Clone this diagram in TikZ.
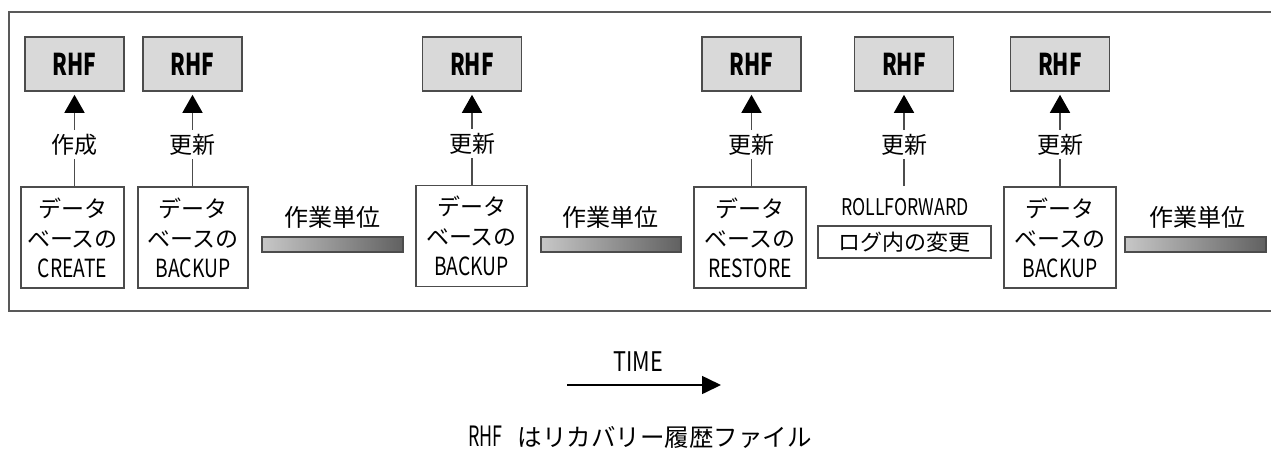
\documentclass[tikz,border=0pt]{standalone}
\usepackage{fontspec}
\setmainfont{Noto Sans CJK JP}
\usepackage{graphicx}
\usetikzlibrary{arrows.meta}
\newcommand{\nrw}[2][0.77]{\scalebox{#1}[1]{#2}}
\newcommand{\latline}[1]{\nrw{\fontsize{25}{30}\selectfont #1}}
\begin{document}
\begin{tikzpicture}[x=1pt,y=-1pt,
  rhfbox/.style={draw=black!70, line width=1.6pt, fill=black!15, minimum width=99pt, minimum height=54pt, inner sep=0pt, font=\fontsize{30}{30}\selectfont\bfseries},
  dbbox/.style={draw=black!70, line width=1.6pt, fill=white, minimum height=101pt, inner sep=0pt, align=center, font=\fontsize{23}{30}\selectfont},
  lbl/.style={fill=white, inner sep=4pt, font=\fontsize{23}{23}\selectfont},
  upd/.style={line width=1.6pt, draw=black!70, -{Triangle[width=20pt,length=18pt,black]}, shorten >=3pt},
  workbar/.style={draw=black!70, line width=1.4pt, left color=black!22, right color=black!62, minimum width=141pt, minimum height=15pt, inner sep=0pt},
  wu/.style={font=\fontsize{24}{24}\selectfont, inner sep=0pt},
]
\useasboundingbox (0,0) rectangle (1271,451);
% outer frame
\draw[black!65, line width=2pt] (1271,12) -- (9,12) -- (9,311) -- (1271,311);

% RHF boxes
\node[rhfbox] (r1) at (74.5,64) {\nrw[0.7]{RHF}};
\node[rhfbox] (r2) at (192.5,64) {\nrw[0.7]{RHF}};
\node[rhfbox] (r3) at (472,64) {\nrw[0.7]{RHF}};
\node[rhfbox] (r4) at (751.5,64) {\nrw[0.7]{RHF}};
\node[rhfbox] (r5) at (904,64) {\nrw[0.7]{RHF}};
\node[rhfbox] (r6) at (1060,64) {\nrw[0.7]{RHF}};

% database boxes
\node[dbbox, minimum width=103pt] (b1) at (72.5,237.5) {データ\\ベースの\\\latline{CREATE}};
\node[dbbox, minimum width=110pt] (b2) at (193,237.5) {データ\\ベースの\\\latline{BACKUP}};
\node[dbbox, minimum width=111pt] (b3) at (471.5,236) {データ\\ベースの\\\latline{BACKUP}};
\node[dbbox, minimum width=112pt] (b4) at (750,237.5) {データ\\ベースの\\\latline{RESTORE}};
\node[dbbox, minimum width=112pt] (b6) at (1060,237.5) {データ\\ベースの\\\latline{BACKUP}};

% rollforward
\node[inner sep=0pt, font=\fontsize{23}{23}\selectfont] (rf) at (905,207) {\nrw{ROLLFORWARD}};
\node[draw=black!70, line width=1.6pt, fill=white, minimum width=173pt, minimum height=32pt, inner sep=0pt, font=\fontsize{22}{22}\selectfont] (log) at (904.5,242) {ログ内の変更};
\coordinate (c5) at (904,186);

% connectors
\draw[upd] (b1.north -| r1.south) -- node[lbl, pos=0.44] (l1) {作成} (r1.south);
\draw[upd] (b2.north -| r2.south) -- node[lbl, pos=0.44] (l2) {更新} (r2.south);
\draw[upd] (b3.north -| r3.south) -- node[lbl, pos=0.44] (l3) {更新} (r3.south);
\draw[upd] (b4.north -| r4.south) -- node[lbl, pos=0.44] (l4) {更新} (r4.south);
\draw[upd] (c5) -- node[lbl, pos=0.44] (l5) {更新} (r5.south);
\draw[upd] (b6.north -| r6.south) -- node[lbl, pos=0.44] (l6) {更新} (r6.south);

% units of work
\node[workbar] (w1) at (332.5,244.5) {};
\node[workbar, minimum width=140pt] (w2) at (611,244.5) {};
\node[workbar] (w3) at (1195.5,244.5) {};
\node[wu] (wl1) at (332,217) {作業単位};
\node[wu] (wl2) at (610,217) {作業単位};
\node[wu] (wl3) at (1197,217) {作業単位};

% time arrow
\node[inner sep=0pt, font=\fontsize{27}{27}\selectfont] (time) at (638,362) {\nrw[0.8]{TIME}};
\coordinate (t0) at (567,385);
\coordinate (t1) at (721,385);
\draw[line width=1.6pt, -{Triangle[width=18pt,length=19pt]}] (t0) -- (t1);

% caption
\node[inner sep=0pt, font=\fontsize{24.5}{24.5}\selectfont] (cap) at (640,437) {\nrw[0.64]{\fontsize{28}{28}\selectfont RHF}\hspace{0.6em}はリカバリー履歴ファイル};
\end{tikzpicture}
\end{document}
